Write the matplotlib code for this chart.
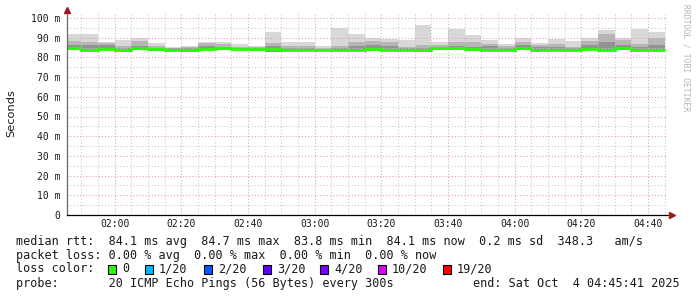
"""
Smokeping latency graph (rrdtool look), 3 hours of 5-minute bins.
"""

import numpy as np
import matplotlib
matplotlib.use("Agg")
import matplotlib.pyplot as plt
from matplotlib.patches import Rectangle

# --- data (ms), one value per 5-minute bin, 01:45:41 .. 04:45:41 ---
t_start = 1 * 60 + 45 + 41 / 60          # minutes after midnight
t_end = t_start + 180
bin_ends = list(range(110, 290, 5))      # 01:50 ... 04:45

median_ms = [84.7, 83.8, 84.4, 83.8, 84.7, 84.1, 84.0, 84.0, 84.3, 84.6,
             84.3, 84.1, 84.4, 83.8, 83.8, 83.8, 83.8, 83.8, 84.1, 83.8,
             84.0, 83.8, 84.6, 84.6, 84.4, 84.0, 84.0, 84.6, 84.0, 84.0,
             83.9, 84.3, 84.0, 84.6, 84.0, 84.0]
smoke_max = [91.7, 91.7, 87.8, 88.6, 90.0, 87.5, 85.3, 86.0, 88.0, 88.0,
             87.0, 86.0, 93.0, 88.0, 88.0, 86.0, 95.0, 91.7, 90.0, 89.2,
             88.8, 96.7, 87.8, 94.2, 91.2, 88.7, 86.7, 90.0, 87.2, 89.2,
             88.3, 89.7, 93.7, 90.0, 94.2, 92.8]
smoke_mid = [88.3, 87.8, 87.5, 86.0, 88.5, 86.0, 85.0, 85.2, 87.5, 86.7,
             85.5, 85.3, 87.5, 85.6, 85.8, 85.0, 85.8, 88.0, 88.3, 88.0,
             85.5, 86.5, 86.5, 88.0, 88.0, 87.0, 85.6, 88.0, 86.5, 87.0,
             85.5, 88.3, 92.0, 89.0, 87.0, 90.0]
smoke_inner = [86.2, 86.1, 86.5, 85.0, 86.0, 85.0, 84.6, 84.6, 86.0, 85.5,
               85.0, 84.8, 85.8, 84.8, 84.8, 84.5, 84.6, 86.0, 86.5, 86.0,
               84.8, 85.0, 85.5, 86.0, 85.5, 85.8, 85.0, 86.3, 85.3, 85.5,
               84.8, 86.5, 88.0, 86.5, 85.5, 86.5]
smoke_min = [83.9, 82.6, 83.8, 82.9, 84.0, 83.5, 83.5, 82.8, 83.7, 83.8,
             83.6, 83.4, 82.8, 83.3, 83.3, 83.3, 83.3, 83.0, 83.5, 83.3,
             83.2, 82.6, 84.0, 83.9, 83.3, 83.4, 83.4, 83.8, 83.2, 83.2,
             83.3, 83.6, 83.4, 83.8, 83.0, 83.3]

y_ticks = [0, 10, 20, 30, 40, 50, 60, 70, 80, 90, 100]
y_labels = ["0", "10 m", "20 m", "30 m", "40 m", "50 m", "60 m", "70 m",
            "80 m", "90 m", "100 m"]
x_ticks = [120, 140, 160, 180, 200, 220, 240, 260, 280]
x_labels = ["02:00", "02:20", "02:40", "03:00", "03:20", "03:40",
            "04:00", "04:20", "04:40"]

loss_labels = ["0", "1/20", "2/20", "3/20", "4/20", "10/20", "19/20"]
loss_colors = ["#26ff00", "#00b8ff", "#0059ff", "#5e00ff", "#7e00ff",
               "#dd00ff", "#ff0000"]

legend_rows = [
    "median rtt:  84.1 ms avg  84.7 ms max  83.8 ms min  84.1 ms now  0.2 ms sd  348.3   am/s",
    "packet loss: 0.00 % avg  0.00 % max  0.00 % min  0.00 % now",
    "loss color:",
    "probe:       20 ICMP Echo Pings (56 Bytes) every 300s",
]
end_text = "end: Sat Oct  4 04:45:41 2025"

W, H = 697, 297
MONO = "DejaVu Sans Mono"
TXT = "#1a1a1a"

fig = plt.figure(figsize=(W / 100, H / 100), dpi=100)
fig.patch.set_facecolor("white")
ax = fig.add_axes([67 / W, 82 / H, 600 / W, 202 / H])
ax.set_xlim(t_start, t_end)
ax.set_ylim(0, 202 / 1.97)

edges = np.array([t_start] + bin_ends)
lo = np.array(smoke_min)
ax.stairs(smoke_max, edges, baseline=lo, fill=True, color="#d8d8d8", lw=0)
ax.stairs(smoke_mid, edges, baseline=lo, fill=True, color="#b6b6b6", lw=0)
ax.stairs(smoke_inner, edges, baseline=lo, fill=True, color="#929292", lw=0)
ax.stairs(median_ms, edges, baseline=None, color=loss_colors[0], lw=2.0,
          zorder=3)

# grid: pink major, grey minor, dotted, drawn over the smoke
ax.set_xticks(x_ticks)
ax.set_xticklabels(x_labels)
ax.set_xticks(np.arange(110, 286, 5), minor=True)
ax.set_yticks(y_ticks)
ax.set_yticklabels(y_labels)
ax.set_yticks(np.arange(5, 100, 10), minor=True)
ax.set_axisbelow(False)
ax.grid(which="major", color="#e8a0a0", ls=(0, (1, 2)), lw=0.75)
ax.grid(which="minor", color="#c8c8c8", ls=(0, (1, 2)), lw=0.75)
ax.tick_params(which="both", length=0)
ax.tick_params(axis="y", pad=5, labelsize=7, labelcolor=TXT)
ax.tick_params(axis="x", pad=3, labelsize=7, labelcolor=TXT)
for lab in ax.get_xticklabels() + ax.get_yticklabels():
    lab.set_family(MONO)
for s in ax.spines.values():
    s.set_visible(False)

# axes with arrow heads
ax.plot([0, 0], [0, 1.01], transform=ax.transAxes, color="#6a6a6a",
        lw=0.9, clip_on=False, zorder=4)
ax.plot([0, 1.006], [0, 0], transform=ax.transAxes, color="black",
        lw=0.9, clip_on=False, zorder=4)
ax.plot(0, 1.013, marker="^", ms=4.5, color="#9b1a1a",
        transform=ax.transAxes, clip_on=False, zorder=5)
ax.plot(1.008, 0, marker=">", ms=4.5, color="#9b1a1a",
        transform=ax.transAxes, clip_on=False, zorder=5)

fig.text(11 / W, 1 - 113 / H, "Seconds", rotation=90, ha="center",
         va="center", fontsize=8.2, color=TXT, family="DejaVu Sans")
fig.text(686 / W, 1 - 4 / H, "RRDTOOL / TOBI OETIKER", rotation=270,
         ha="center", va="top", fontsize=5.8, color="#b5b5b5", family=MONO)

# legend block
row_y = [241, 255, 269, 283.5]
for text, y in zip(legend_rows, row_y):
    fig.text(16 / W, 1 - y / H, text, ha="left", va="center",
             fontsize=8.45, color=TXT, family=MONO)
fig.text(680 / W, 1 - row_y[3] / H, end_text, ha="right", va="center",
         fontsize=8.45, color=TXT, family=MONO)

box_x = [108, 145, 204, 263, 320, 378, 443]
for bx, lab, col in zip(box_x, loss_labels, loss_colors):
    fig.patches.append(Rectangle((bx / W, 1 - 274 / H), 8 / W, 9 / H,
                                 transform=fig.transFigure, facecolor=col,
                                 edgecolor="black", lw=0.8))
    fig.text((bx + 14) / W, 1 - row_y[2] / H, lab, ha="left", va="center",
             fontsize=8.45, color=TXT, family=MONO)

fig.savefig("out.png", dpi=100)
